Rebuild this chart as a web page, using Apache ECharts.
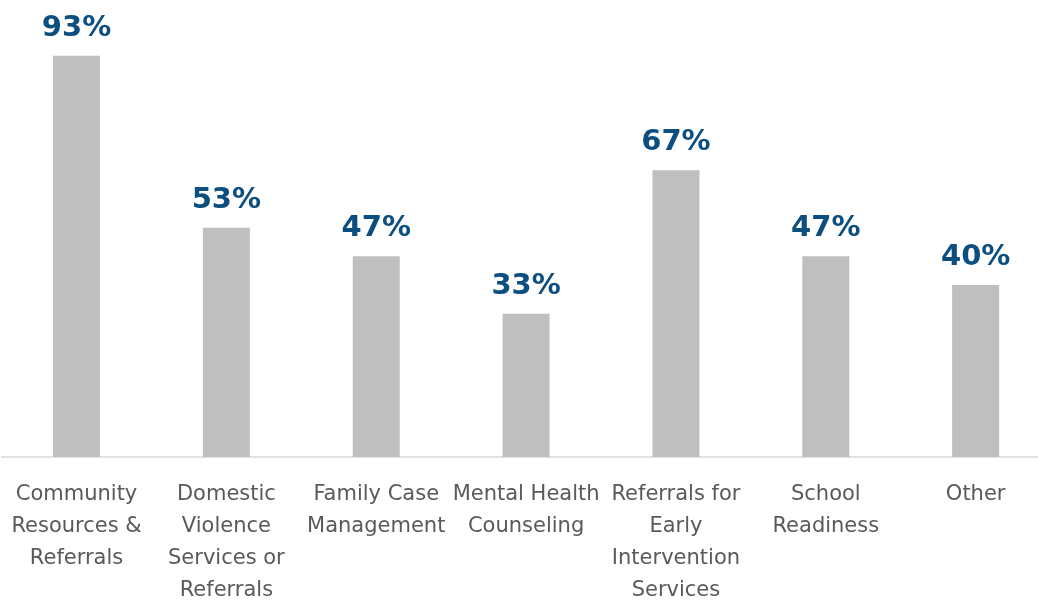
<!DOCTYPE html>
<html>
<head>
<meta charset="utf-8">
<script src="https://cdn.jsdelivr.net/npm/echarts@6/dist/echarts.min.js"></script>
<style>
html,body{margin:0;padding:0;background:#fff;}
#chart{width:1038px;height:601px;}
</style>
</head>
<body>
<div id="chart"></div>
<script>
const categories = [
  "Community\nResources &\nReferrals",
  "Domestic\nViolence\nServices or\nReferrals",
  "Family Case\nManagement",
  "Mental Health\nCounseling",
  "Referrals for\nEarly\nIntervention\nServices",
  "School\nReadiness",
  "Other"
];
const values = [93.3, 53.3, 46.7, 33.3, 66.7, 46.7, 40.0];

const chart = echarts.init(document.getElementById('chart'), null, {renderer: 'canvas'});
chart.setOption({
  animation: false,
  backgroundColor: '#ffffff',
  grid: {left: 1.6, top: 27, width: 1049, height: 430, containLabel: false, outerBoundsMode: 'none'},
  xAxis: {
    type: 'category',
    data: categories,
    axisLine: {show: true, lineStyle: {color: '#D9D9D9', width: 1.5}},
    axisTick: {show: false},
    axisLabel: {
      interval: 0,
      color: '#595959',
      fontFamily: 'DejaVu Sans',
      fontSize: 21,
      lineHeight: 32,
      margin: 22,
      align: 'center'
    }
  },
  yAxis: {
    type: 'value',
    min: 0,
    max: 100,
    show: false,
    splitLine: {show: false}
  },
  series: [{
    type: 'bar',
    data: values,
    barWidth: 47,
    itemStyle: {color: '#BFBFBF'},
    label: {
      show: true,
      position: 'top',
      distance: 13,
      formatter: p => Math.round(p.value) + '%',
      color: '#0D4E80',
      fontFamily: 'DejaVu Sans',
      fontWeight: 'bold',
      fontSize: 29
    }
  }]
});
</script>
</body>
</html>
